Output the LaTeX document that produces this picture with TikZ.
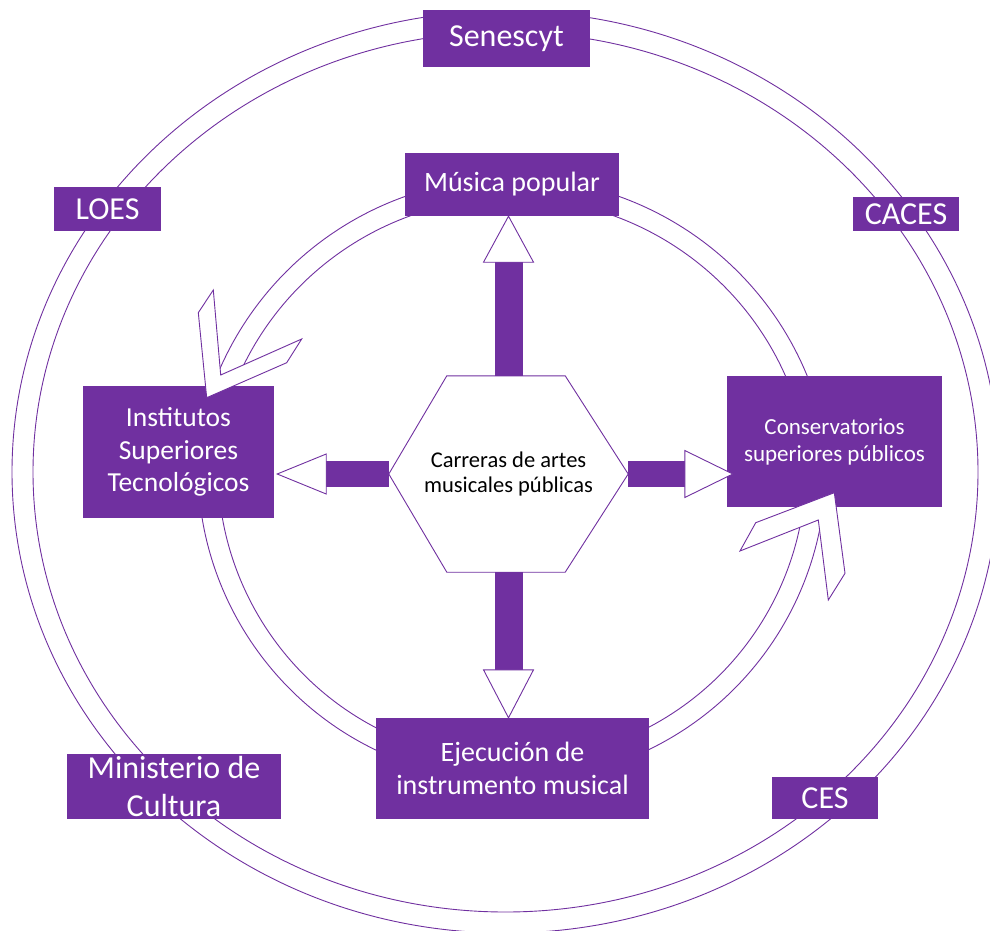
\documentclass[tikz,border=0pt]{standalone}
\usepackage{fontspec}
\setmainfont{Carlito}
\usetikzlibrary{calc}
\definecolor{pur}{HTML}{7030A0}
\begin{document}
\begin{tikzpicture}[x=1pt,y=-1pt,
  ol/.style={draw=pur, line width=0.9pt},
  box/.style={fill=pur, text=white, inner sep=0pt, align=center},
  big/.style={font=\fontsize{32}{38.4}\selectfont},
  mid/.style={font=\fontsize{28}{33}\selectfont},
  headw/.style={ol, fill=white, line join=miter},
  bar/.style={fill=pur}]
\useasboundingbox (0,0) rectangle (990,931);
% outer double ring
\draw[ol] (505.5,472) ellipse [x radius=493.5, y radius=461];
\draw[ol] (505.5,472) ellipse [x radius=472.5, y radius=440];
% inner circular arrow bands
\draw[ol] ([shift={(512,497)}]-10:319) arc[start angle=-10, end angle=-159, radius=319];
\draw[ol] ([shift={(512,497)}]-10:299) arc[start angle=-10, end angle=-156, radius=299];
\draw[ol] ([shift={(512,467)}]190:314) arc[start angle=190, end angle=7, radius=314];
\draw[ol] ([shift={(512,467)}]190:294) arc[start angle=190, end angle=9, radius=294];
% boxes
\node[box, big, minimum width=167pt, minimum height=57pt] (sen) at (506.5,38.5) {Senescyt};
\node[box, big, minimum width=107pt, minimum height=44pt] (loes) at (107.5,209) {LOES};
\node[box, big, minimum width=106pt, minimum height=34pt] (caces) at (906,214) {CACES};
\node[box, big, minimum width=214pt, minimum height=65pt] (min) at (174,786.5) {Ministerio de\\Cultura};
\node[box, big, minimum width=106pt, minimum height=42pt] (ces) at (825,798) {CES};
\node[box, mid, minimum width=214pt, minimum height=63pt] (mp) at (512,184.5) {Música popular};
\node[box, font=\fontsize{27.5}{32.5}\selectfont, minimum width=191pt, minimum height=132pt] (ist) at (178.5,452) {Institutos\\Superiores\\Tecnológicos};
\node[box, font=\fontsize{23}{27}\selectfont, minimum width=215pt, minimum height=131pt] (cons) at (834.5,441.5) {Conservatorios\\superiores públicos};
\node[box, mid, minimum width=273pt, minimum height=101pt] (ej) at (512.5,768.5) {Ejecución de\\instrumento musical};
% hexagon
\node[minimum width=239pt, minimum height=196pt, inner sep=0pt] (hex) at (508.5,474) {};
\draw[ol, fill=white] (hex.west) -- ($(hex.north west)+(58,0)$) -- ($(hex.north east)+(-63,0)$) -- (hex.east) -- ($(hex.south east)+(-63,0)$) -- ($(hex.south west)+(58,0)$) -- cycle;
\node[align=center, text=black, font=\fontsize{22.5}{25.5}\selectfont] (hext) at (hex.center) {Carreras de artes\\musicales públicas};
% central arrows
\coordinate (tu) at (hex.north |- mp.south);
\fill[bar] ($(hex.north)+(-14,0)$) rectangle ($(tu)+(14,46)$);
\draw[headw] ($(tu)+(-25,46)$) -- ($(tu)+(25,46)$) -- (tu) -- cycle;
\coordinate (td) at (hex.south |- ej.north);
\fill[bar] ($(hex.south)+(-14,0)$) rectangle ($(td)+(14,-48)$);
\draw[headw] ($(td)+(-25,-48)$) -- ($(td)+(25,-48)$) -- (td) -- cycle;
\coordinate (tl) at ($(hex.west -| ist.east)+(3,0)$);
\fill[bar] ($(hex.west)+(0,-13)$) rectangle ($(tl)+(49,13)$);
\draw[headw] ($(tl)+(49,-20)$) -- ($(tl)+(49,20)$) -- (tl) -- cycle;
\coordinate (tr) at ($(hex.east -| cons.west)+(6,0)$);
\fill[bar] ($(hex.east)+(0,-13)$) rectangle ($(tr)+(-48,13)$);
\draw[headw] ($(tr)+(-48,-23.5)$) -- ($(tr)+(-48,23.5)$) -- (tr) -- cycle;
% chevron arrow heads of the circular arrows
\draw[headw] (213.3,290) -- (220.7,375) -- (301.7,339) -- (286.7,362.7) -- (206.7,397.7) -- (198.3,312.7) -- cycle;
\draw[headw] (834.3,492.7) -- (845,573.3) -- (828.3,600) -- (818.3,520) -- (740,551) -- (755.7,522.7) -- cycle;
\end{tikzpicture}
\end{document}
